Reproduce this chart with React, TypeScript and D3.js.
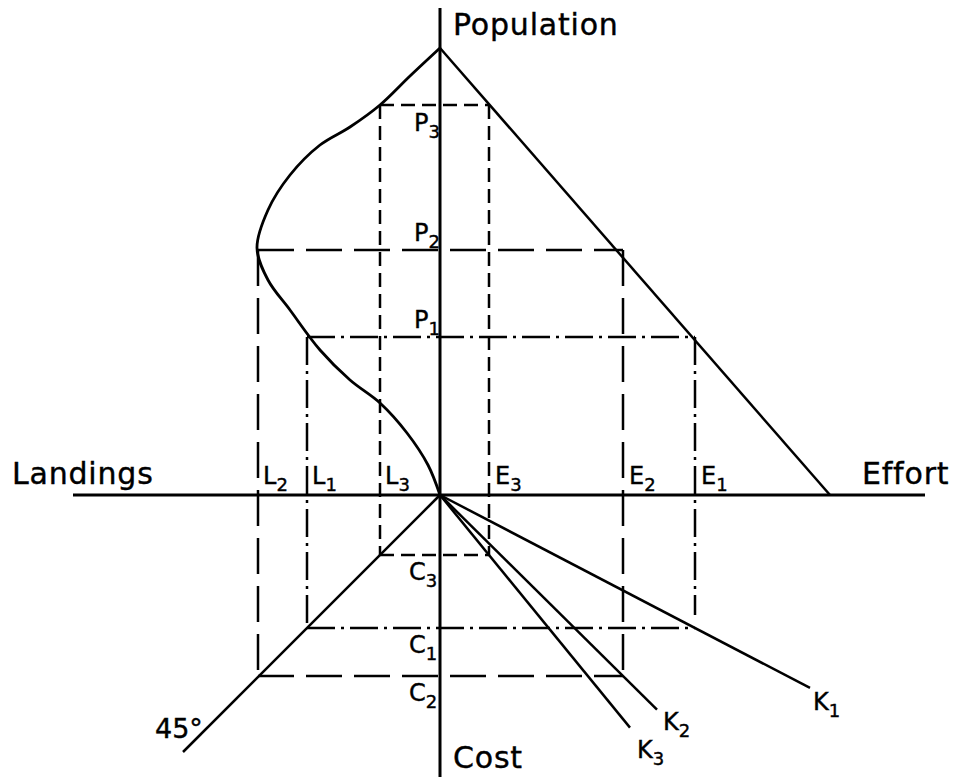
import React from "react";
import * as d3 from "d3";

// Levels 1, 2, 3 (P1/E1/L1/C1/K1 ...), values measured from origin in diagram units
const levelIds = ["1", "2", "3"];
const population = [158, 245, 390];
const landings = [133, 182, 60];
const effort = [255, 183, 49];
const cost = [133, 181, 60];
const costLineEndEffort = [370, 217, 190];
const costLineLabelPos = [[373, 205], [223, 225], [197, 253]];

const populationMax = 447;
const effortMax = 390;

// Yield curve: landings vs population
const yieldL = [0, 30, 60, 90, 120, 150, 172, 183, 172, 150, 120, 90, 60, 33, 12, 0];
const yieldP = [447, 419, 390, 368, 350, 320, 285, 247, 215, 185, 145, 115, 92, 62, 30, 0];

const axisExtent = { pop: 487, cost: 282, landings: 367, effort: 485 };

const W = 958, H = 777;
const x = d3.scaleLinear().domain([-440, 518]).range([0, W]); // negative = landings
const y = d3.scaleLinear().domain([495, -282]).range([0, H]); // negative = cost

const dashStyles = ["28 6 3 6", "36 12", "14 7"];

function Sub({ tx, ty, main, sub, size = 24 }) {
  return (
    <text x={tx} y={ty} fontSize={size} fontFamily="DejaVu Sans" fill="#000" stroke="#000" strokeWidth={0.4}>
      {main}
      <tspan dy={7} fontSize={size * 0.75}>{sub}</tspan>
    </text>
  );
}

export default function App() {
  const curve = d3
    .line<number>()
    .x((i) => x(-yieldL[i]))
    .y((i) => y(yieldP[i]))
    .curve(d3.curveCatmullRom.alpha(0.5));
  const idx = yieldL.map((_, i) => i);

  const bigFont = { fontFamily: "DejaVu Sans", fontSize: 30, letterSpacing: 0.8, stroke: "#000", strokeWidth: 0.4 };

  return (
    <svg width={W} height={H} style={{ position: "absolute", left: 0, top: 0, background: "#fff" }}>
      <rect width={W} height={H} fill="#fff" />
      {/* axes */}
      <line x1={x(0)} x2={x(0)} y1={y(axisExtent.pop)} y2={y(-axisExtent.cost)} stroke="#000" strokeWidth={3} />
      <line x1={x(-axisExtent.landings)} x2={x(axisExtent.effort)} y1={y(0)} y2={y(0)} stroke="#000" strokeWidth={3} />

      {/* population-effort line */}
      <line x1={x(0)} y1={y(populationMax)} x2={x(effortMax)} y2={y(0)} stroke="#000" strokeWidth={2.5} />
      {/* yield curve */}
      <path d={curve(idx) || ""} fill="none" stroke="#000" strokeWidth={2.8} />
      {/* 45 degree line */}
      <line x1={x(0)} y1={y(0)} x2={x(-257)} y2={y(-257)} stroke="#000" strokeWidth={2.5} />
      {/* cost lines K */}
      {levelIds.map((id, i) => {
        const s = cost[i] / effort[i];
        const e = costLineEndEffort[i];
        return (
          <line key={"k" + id} x1={x(0)} y1={y(0)} x2={x(e)} y2={y(-e * s)} stroke="#000" strokeWidth={2.5} />
        );
      })}

      {/* construction rectangles */}
      {levelIds.map((id, i) => {
        const p = population[i], l = landings[i], e = effort[i], c = cost[i];
        const da = dashStyles[i];
        const eBottom = i === 0 ? 120 : c;
        return (
          <g key={"r" + id} stroke="#000" strokeWidth={2.5} fill="none" strokeDasharray={da}>
            <line x1={x(-l)} x2={x(e)} y1={y(p)} y2={y(p)} />
            <line x1={x(-l)} x2={x(-l)} y1={y(p)} y2={y(-c)} />
            <line x1={x(e)} x2={x(e)} y1={y(p)} y2={y(-eBottom)} />
            <line x1={x(-l)} x2={x(e)} y1={y(-c)} y2={y(-c)} />
          </g>
        );
      })}

      {/* axis titles */}
      <text x={453} y={35} {...bigFont}>Population</text>
      <text x={12} y={484} {...bigFont}>Landings</text>
      <text x={862} y={484} {...bigFont}>Effort</text>
      <text x={453} y={768} {...bigFont}>Cost</text>
      <text x={155} y={738} fontFamily="DejaVu Sans" fontSize={27} stroke="#000" strokeWidth={0.4}>45°</text>

      {/* level labels */}
      {levelIds.map((id, i) => (
        <g key={"lab" + id}>
          <Sub tx={x(0) - 26} ty={y(population[i]) - 9 + (i === 2 ? 35 : 0)} main="P" sub={id} />
          <Sub tx={x(-landings[i]) + 5} ty={484} main="L" sub={id} />
          <Sub tx={x(effort[i]) + 6} ty={484} main="E" sub={id} />
          <Sub tx={x(0) - 31} ty={y(-cost[i]) + 25} main="C" sub={id} />
          <Sub tx={x(costLineLabelPos[i][0])} ty={y(-costLineLabelPos[i][1]) + 10} main="K" sub={id} />
        </g>
      ))}
    </svg>
  );
}
